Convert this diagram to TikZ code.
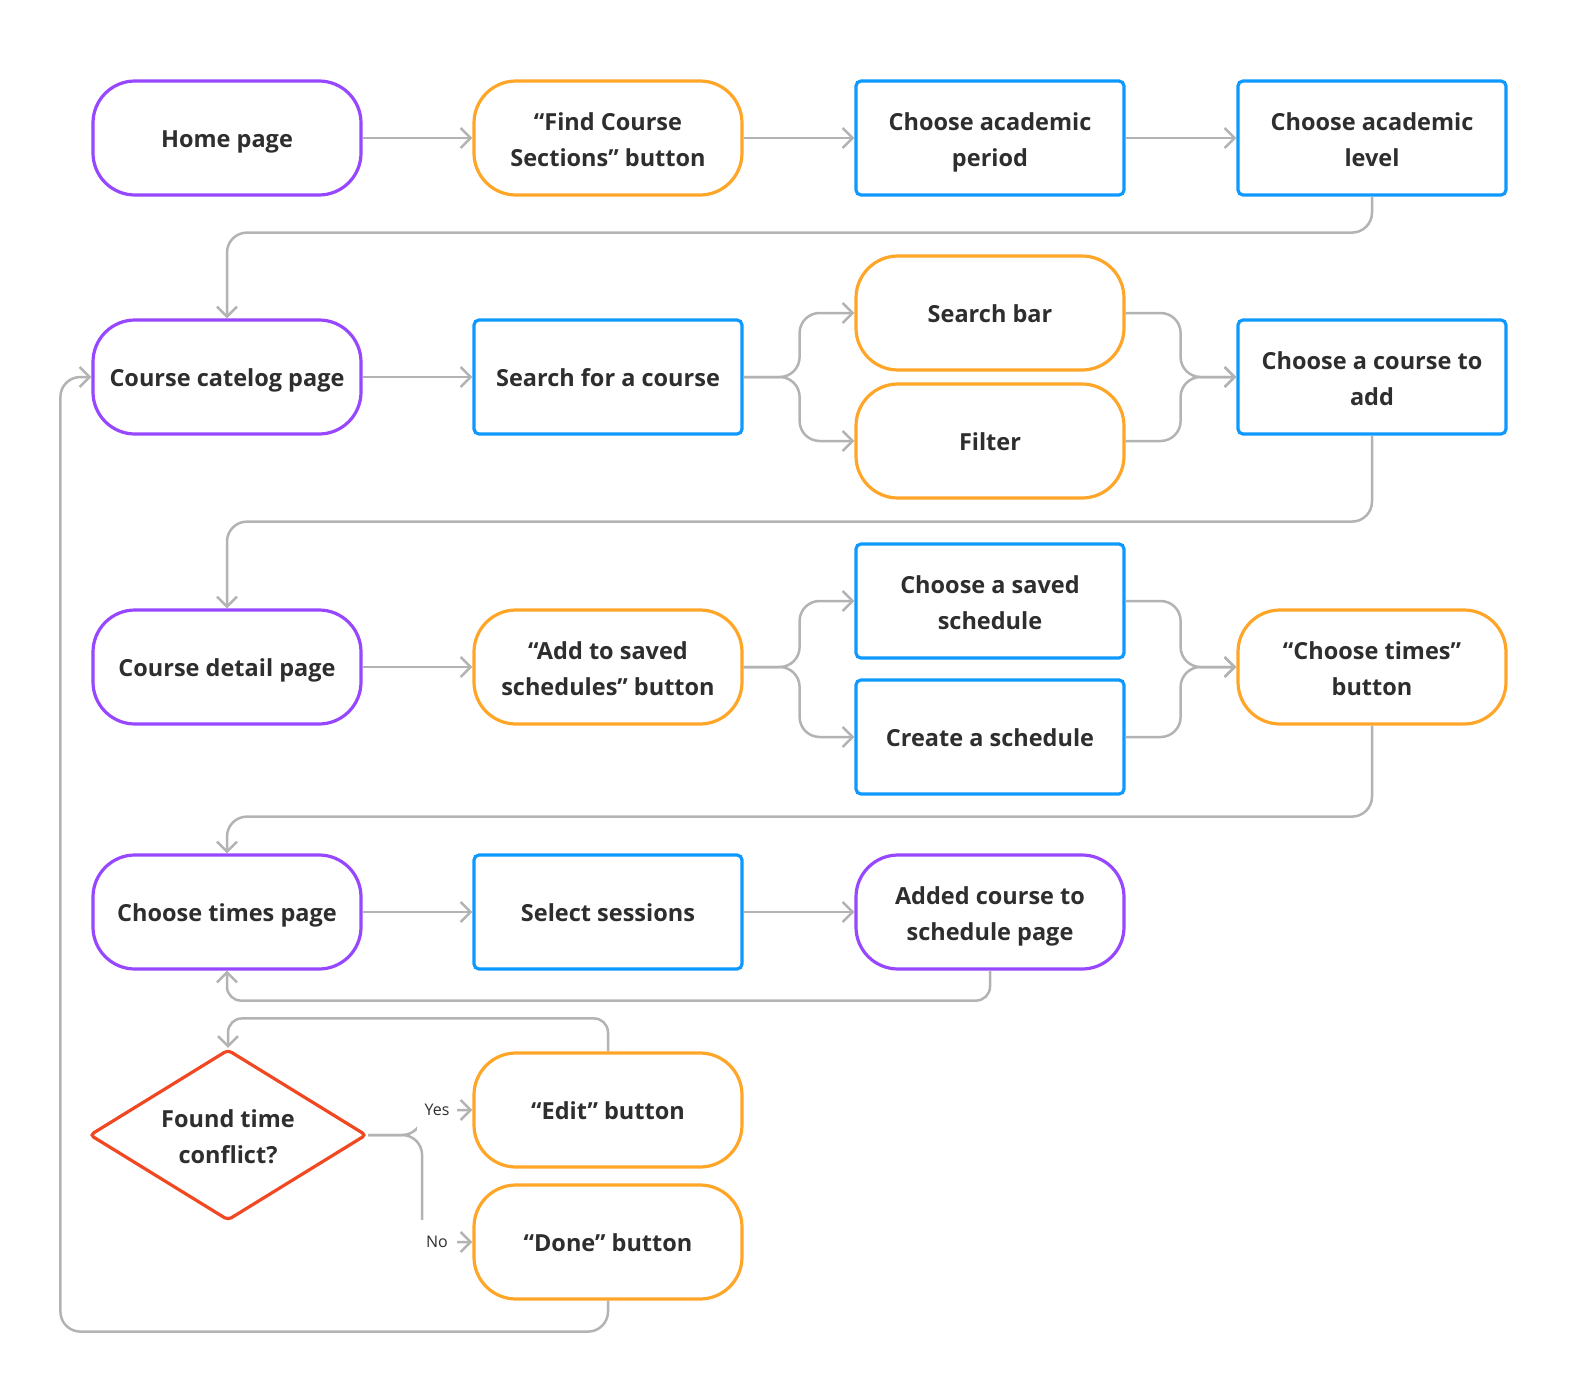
\documentclass[tikz,border=0pt]{standalone}
\usepackage{fontspec}
\setmainfont{Open Sans}
\usetikzlibrary{arrows.meta,shapes.geometric}
\definecolor{purp}{HTML}{9747FF}
\definecolor{oran}{HTML}{FFA629}
\definecolor{blu}{HTML}{0D99FF}
\definecolor{redc}{HTML}{F24822}
\definecolor{gry}{HTML}{B3B3B3}
\definecolor{txtc}{HTML}{2E2E2E}
\newcommand{\topstrut}{\rule{0pt}{24pt}}
\newcommand{\botstrut}{\rule[-5pt]{0pt}{5pt}}
\newcommand{\twol}[2]{\raisebox{-3pt}[\height][\depth]{\begin{tabular}{@{}c@{}}#1\\#2\end{tabular}}}
\tikzset{
  txt/.style={align=center, font=\fontsize{23.5}{36}\selectfont\bfseries, text=txtc,
    execute at begin node=\topstrut, execute at end node=\botstrut},
  base/.style={txt, minimum width=268pt, minimum height=114pt, line width=3.2pt,
    fill=white, inner sep=0pt},
  purplepill/.style={base, draw=purp, rounded corners=42pt},
  orangepill/.style={base, draw=oran, rounded corners=42pt},
  bluebox/.style={base, draw=blu, rounded corners=5pt},
  decision/.style={txt, diamond, draw=redc, line width=3.2pt, minimum width=277pt, minimum height=171pt,
    inner sep=0pt, aspect=1.62, rounded corners=4pt, fill=white},
  conn/.style={draw=gry, line width=2.5pt, rounded corners=20pt},
  arr/.style={conn, -{Straight Barb[length=10pt,width=20pt]}},
  arrs/.style={arr, rounded corners=14pt},
  lbl/.style={fill=white, minimum width=40pt, minimum height=44pt, inner sep=0pt,
    font=\fontsize{16}{18}\selectfont, text=txtc}
}
\begin{document}
\begin{tikzpicture}[x=1pt,y=-1pt]
\useasboundingbox (0,0) rectangle (1583,1400);
% row 1
\node[purplepill] (home) at (227,138) {Home page};
\node[orangepill] (find) at (608,138) {\twol{“Find Course}{Sections” button}};
\node[bluebox] (period) at (990,138) {\twol{Choose academic}{period}};
\node[bluebox] (level) at (1372,138) {\twol{Choose academic}{level}};
% row 2
\node[purplepill] (catalog) at (227,377) {Course catelog page};
\node[bluebox] (search) at (608,377) {Search for a course};
\node[orangepill] (sbar) at (990,313) {Search bar};
\node[orangepill] (filter) at (990,441) {Filter};
\node[bluebox] (choose) at (1372,377) {\twol{Choose a course to}{add}};
% row 3
\node[purplepill] (detail) at (227,667) {Course detail page};
\node[orangepill] (addsaved) at (608,667) {\twol{“Add to saved}{schedules” button}};
\node[bluebox] (saved) at (990,601) {\twol{Choose a saved}{schedule}};
\node[bluebox] (create) at (990,737) {Create a schedule};
\node[orangepill] (ctbutton) at (1372,667) {\twol{“Choose times”}{button}};
% row 4
\node[purplepill] (ctpage) at (227,912) {Choose times page};
\node[bluebox] (sessions) at (608,912) {Select sessions};
\node[purplepill] (added) at (990,912) {\twol{Added course to}{schedule page}};
% row 5
\node[decision] (conflict) at (228,1135) {\twol{Found time}{conflict?}};
\node[orangepill] (edit) at (608,1110) {“Edit” button};
\node[orangepill] (done) at (608,1242) {“Done” button};
% connectors row 1
\draw[arr] (home.east) -- (find.west);
\draw[arr] (find.east) -- (period.west);
\draw[arr] (period.east) -- (level.west);
\draw[arr] (level.south) -- ++(0,36) -| (catalog.north);
% row 2
\draw[arr] (catalog.east) -- (search.west);
\draw[arr] (search.east) -- ++(56,0) |- (sbar.west);
\draw[arr] (search.east) -- ++(56,0) |- (filter.west);
\draw[arr] (sbar.east) -- ++(55,0) |- (choose.west);
\draw[arr] (filter.east) -- ++(55,0) |- (choose.west);
\draw[arr] (choose.south) -- ++(0,86) -| (detail.north);
% row 3
\draw[arr] (detail.east) -- (addsaved.west);
\draw[arr] (addsaved.east) -- ++(56,0) |- (saved.west);
\draw[arr] (addsaved.east) -- ++(56,0) |- (create.west);
\draw[arr] (saved.east) -- ++(55,0) |- (ctbutton.west);
\draw[arr] (create.east) -- ++(55,0) |- (ctbutton.west);
\draw[arr] (ctbutton.south) -- ++(0,91) -| (ctpage.north);
% row 4
\draw[arr] (ctpage.east) -- (sessions.west);
\draw[arr] (sessions.east) -- (added.west);
\draw[arrs] (added.south) -- ++(0,30) -| (ctpage.south);
\draw[arrs] (edit.north) -- ++(0,-33) -| (conflict.north);
% decision
\draw[arr] (conflict.east) -- ++(54,0) |- (edit.west);
\draw[arr] (conflict.east) -- ++(54,0) |- (done.west);
\node[lbl] (yes) at (437,1110) {Yes};
\node[lbl] (no) at (437,1242) {No};
% loop back
\draw[arr] (done.south) -- ++(0,31) -| ([xshift=-31pt]catalog.west) -- (catalog.west);
\end{tikzpicture}
\end{document}
